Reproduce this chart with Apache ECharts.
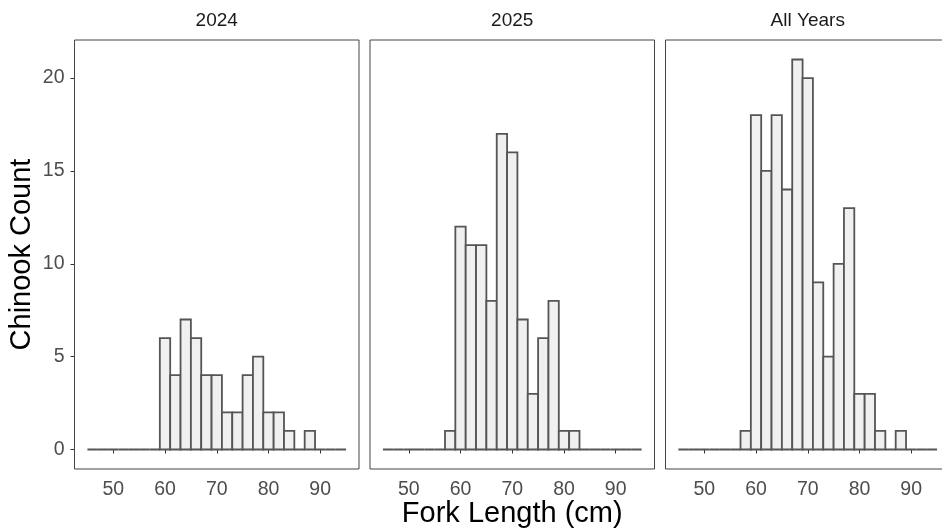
<!DOCTYPE html>
<html>
<head>
<meta charset="utf-8">
<script src="https://cdn.jsdelivr.net/npm/echarts@6/dist/echarts.min.js"></script>
<style>
  html, body { margin: 0; padding: 0; background: #ffffff; }
  #chart { width: 942px; height: 529px; }
</style>
</head>
<body>
<div id="chart"></div>
<script>
// Facet names
const panelNames = ['2024', '2025', 'All Years'];

// Histogram bins (left edge, cm), width 2 cm
const binStarts = [45, 47, 49, 51, 53, 55, 57, 59, 61, 63, 65, 67, 69, 71, 73, 75, 77, 79, 81, 83, 85, 87, 89, 91, 93];
const BIN_WIDTH = 2;

// Counts per bin
const counts2024 = [0, 0, 0, 0, 0, 0, 0, 6, 4, 7, 6, 4, 4, 2, 2, 4, 5, 2, 2, 1, 0, 1, 0, 0, 0];
const counts2025 = [0, 0, 0, 0, 0, 0, 1, 12, 11, 11, 8, 17, 16, 7, 3, 6, 8, 1, 1, 0, 0, 0, 0, 0, 0];
const countsAll  = [0, 0, 0, 0, 0, 0, 1, 18, 15, 18, 14, 21, 20, 9, 5, 10, 13, 3, 3, 1, 0, 1, 0, 0, 0];

// Axis ticks
const xTicks = [50, 60, 70, 80, 90];
const yTicks = [0, 5, 10, 15, 20];

const panelCounts = [counts2024, counts2025, countsAll];

const FONT = '"Liberation Sans", Arial, Helvetica, sans-serif';
const panelLeft = [74.5, 370, 665.5];
const panelWidth = 284.5;
const panelTop = 40;
const panelHeight = 429;

const X_MIN = 42.5, X_MAX = 97.5;
const Y_MIN = -1.05, Y_MAX = 22.05;

const grids = [], xAxes = [], yAxes = [], series = [], graphics = [];

panelCounts.forEach((counts, i) => {
  grids.push({
    left: panelLeft[i], top: panelTop, width: panelWidth, height: panelHeight,
    show: false, containLabel: false, outerBoundsMode: 'none'
  });
  xAxes.push({
    type: 'value', gridIndex: i, min: X_MIN, max: X_MAX,
    axisLine: { show: false },
    splitLine: { show: false },
    axisTick: { show: true, length: 4, lineStyle: { color: '#333333', width: 1 }, customValues: xTicks },
    axisLabel: { show: true, customValues: xTicks, color: '#4d4d4d', fontSize: 19.5, fontFamily: FONT, margin: 11 },
    name: i === 1 ? 'Fork Length (cm)' : '',
    nameLocation: 'middle', nameGap: 30, nameMoveOverlap: false,
    nameTextStyle: { color: '#000000', fontSize: 29, fontFamily: FONT }
  });
  yAxes.push({
    type: 'value', gridIndex: i, min: Y_MIN, max: Y_MAX,
    axisLine: { show: false },
    splitLine: { show: false },
    axisTick: { show: i === 0, length: 4, lineStyle: { color: '#333333', width: 1 }, customValues: yTicks },
    axisLabel: { show: i === 0, customValues: yTicks, color: '#4d4d4d', fontSize: 19.5, fontFamily: FONT, margin: 10 },
    name: i === 0 ? 'Chinook Count' : '',
    nameLocation: 'middle', nameGap: 38, nameMoveOverlap: false,
    nameTextStyle: { color: '#000000', fontSize: 29, fontFamily: FONT }
  });
  series.push({
    type: 'custom', xAxisIndex: i, yAxisIndex: i,
    encode: { x: [0, 1], y: 2 },
    data: counts.map((c, k) => [binStarts[k], binStarts[k] + BIN_WIDTH, c]),
    renderItem: function (params, api) {
      const p0 = api.coord([api.value(0), api.value(2)]);
      const p1 = api.coord([api.value(1), 0]);
      return {
        type: 'rect',
        shape: { x: p0[0], y: p0[1], width: p1[0] - p0[0], height: p1[1] - p0[1] },
        style: { fill: '#f0f0f0', stroke: '#555555', lineWidth: 1.8 }
      };
    },
    silent: true, animation: false
  });
  // panel frame
  graphics.push({
    type: 'rect', silent: true, z: 10,
    shape: { x: panelLeft[i], y: panelTop, width: panelWidth, height: panelHeight },
    style: { fill: null, stroke: '#444444', lineWidth: 1 }
  });
  // strip label
  graphics.push({
    type: 'text', x: panelLeft[i] + panelWidth / 2, y: 21,
    style: { text: panelNames[i], align: 'center', verticalAlign: 'middle',
             fill: '#1a1a1a', fontSize: 19, fontFamily: FONT }
  });
});

const chart = echarts.init(document.getElementById('chart'), null, { renderer: 'canvas' });
chart.setOption({
  backgroundColor: '#ffffff',
  animation: false,
  grid: grids,
  xAxis: xAxes,
  yAxis: yAxes,
  series: series,
  graphic: graphics
});
</script>
</body>
</html>
